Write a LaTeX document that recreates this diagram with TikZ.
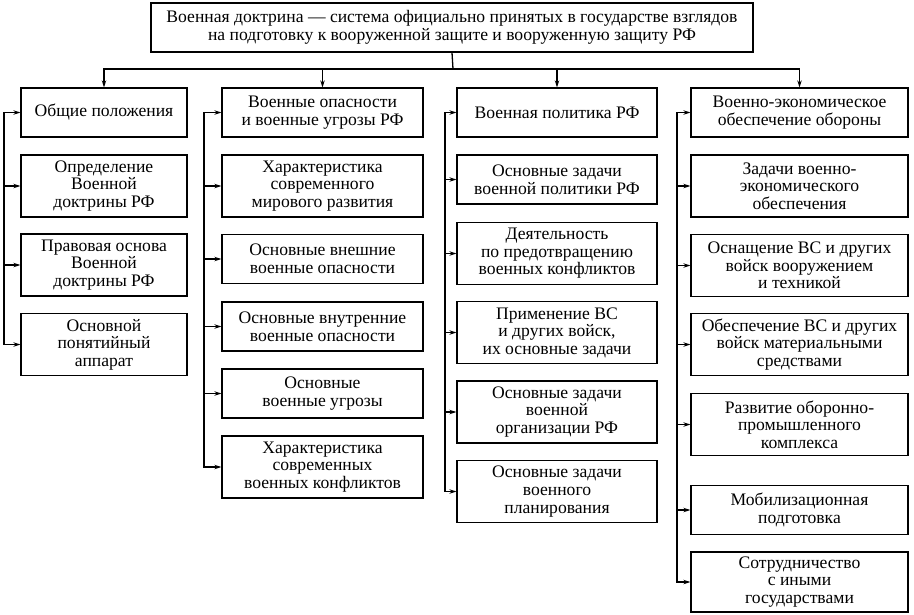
\documentclass[tikz,border=0pt]{standalone}
\usepackage{fontspec}
\setmainfont{Liberation Serif}
\usetikzlibrary{arrows.meta}

\begin{document}
\begin{tikzpicture}[
            x = 1pt, y = -1pt,
            box/.style = {draw, line width = 1.3pt, rectangle, align = center, inner sep = 0pt,
                          font = \fontsize{17.6}{17.6}\selectfont},
            two/.style = {box, minimum height = 49pt},
            three/.style = {box, minimum height = 62pt},
            wa/.style = {minimum width = 166pt},
            wb/.style = {minimum width = 201pt},
            wc/.style = {minimum width = 200pt},
            wd/.style = {minimum width = 217pt},
            line/.style = {draw, line width = 1.3pt, line cap = rect},
            arr/.style = {draw, line width = 1.3pt, -{Stealth[length = 7pt, width = 4.5pt]}},
        ]
        \useasboundingbox (0,0) rectangle (914,614);

        \node (TOP) [two, minimum width = 602pt] at (452,27.5)
            {Военная доктрина — система официально принятых в государстве взглядов\\
             на подготовку к вооруженной защите и вооруженную защиту РФ};

        \node (H1) [two, wa] at (104,112.5) {Общие положения};
        \node (A2) [three, wa] at (104,186) {Определение\\Военной\\доктрины РФ};
        \node (A3) [three, wa] at (104,265) {Правовая основа\\Военной\\доктрины РФ};
        \node (A4) [three, wa] at (104,344.5) {Основной\\понятийный\\аппарат};

        \node (H2) [two, wb] at (322.5,112.5) {Военные опасности\\и военные угрозы РФ};
        \node (B2) [three, wb] at (322.5,186) {Характеристика\\современного\\мирового развития};
        \node (B3) [two, wb] at (322.5,259) {Основные внешние\\военные опасности};
        \node (B4) [two, wb] at (322.5,326.5) {Основные внутренние\\военные опасности};
        \node (B5) [two, wb] at (322.5,393.5) {Основные\\военные угрозы};
        \node (B6) [three, wb] at (322.5,467) {Характеристика\\современных\\военных конфликтов};

        \node (H3) [two, wc] at (557,112.5) {Военная политика РФ};
        \node (C2) [two, wc] at (557,179.5) {Основные задачи\\военной политики РФ};
        \node (C3) [three, wc] at (557,253.5) {Деятельность\\по предотвращению\\военных конфликтов};
        \node (C4) [three, wc] at (557,332.5) {Применение ВС\\и других войск,\\их основные задачи};
        \node (C5) [three, wc] at (557,412) {Основные задачи\\военной\\организации РФ};
        \node (C6) [three, wc] at (557,491.5) {Основные задачи\\военного\\планирования};

        \node (H4) [two, wd] at (799.5,112.5) {Военно-экономическое\\обеспечение обороны};
        \node (D2) [three, wd] at (799.5,186) {Задачи военно-\\экономического\\обеспечения};
        \node (D3) [three, wd] at (799.5,265.5) {Оснащение ВС и других\\войск вооружением\\и техникой};
        \node (D4) [three, wd] at (799.5,344.5) {Обеспечение ВС и других\\войск материальными\\средствами};
        \node (D5) [three, wd] at (799.5,424.5) {Развитие оборонно-\\промышленного\\комплекса};
        \node (D6) [two, wd] at (799.5,510) {Мобилизационная\\подготовка};
        \node (D7) [box, wd, minimum height = 60pt] at (799.5,582) {Сотрудничество\\с иными\\государствами};

        \coordinate (BUS) at (453,69);
        \coordinate (S1) at (4,112.5);
        \coordinate (S2) at (204,112.5);
        \coordinate (S3) at (445,112.5);
        \coordinate (S4) at (677,112.5);

        \path[line] (TOP.south) -- (BUS);
        \path[arr] (BUS) -| (H1.north);
        \path[arr] (BUS) -| (H2.north);
        \path[arr] (BUS) -| (H3.north);
        \path[arr] (BUS) -| (H4.north);

        \path[line] (S1) -- (S1 |- A4.west);
        \path[arr] (S1) -- (H1.west);
        \path[arr] (S1 |- A2.west) -- (A2.west);
        \path[arr] (S1 |- A3.west) -- (A3.west);
        \path[arr] (S1 |- A4.west) -- (A4.west);

        \path[line] (S2) -- (S2 |- B6.west);
        \path[arr] (S2) -- (H2.west);
        \path[arr] (S2 |- B2.west) -- (B2.west);
        \path[arr] (S2 |- B3.west) -- (B3.west);
        \path[arr] (S2 |- B4.west) -- (B4.west);
        \path[arr] (S2 |- B5.west) -- (B5.west);
        \path[arr] (S2 |- B6.west) -- (B6.west);

        \path[line] (S3) -- (S3 |- C6.west);
        \path[arr] (S3) -- (H3.west);
        \path[arr] (S3 |- C2.west) -- (C2.west);
        \path[arr] (S3 |- C3.west) -- (C3.west);
        \path[arr] (S3 |- C4.west) -- (C4.west);
        \path[arr] (S3 |- C5.west) -- (C5.west);
        \path[arr] (S3 |- C6.west) -- (C6.west);

        \path[line] (S4) -- (S4 |- D7.west);
        \path[arr] (S4) -- (H4.west);
        \path[arr] (S4 |- D2.west) -- (D2.west);
        \path[arr] (S4 |- D3.west) -- (D3.west);
        \path[arr] (S4 |- D4.west) -- (D4.west);
        \path[arr] (S4 |- D5.west) -- (D5.west);
        \path[arr] (S4 |- D6.west) -- (D6.west);
        \path[arr] (S4 |- D7.west) -- (D7.west);
    \end{tikzpicture}
\end{document}
